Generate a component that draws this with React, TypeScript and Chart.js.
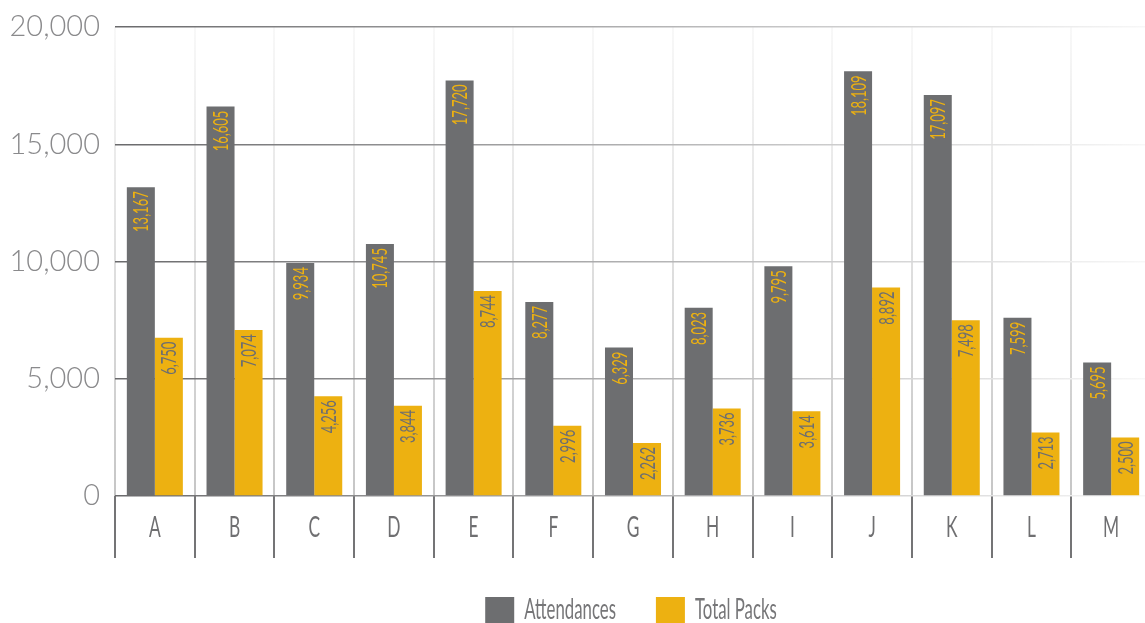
import React, { useEffect, useRef } from "react";
import { Chart, registerables } from "chart.js";

Chart.register(...registerables);

// ---- data ----
const categories = ["A", "B", "C", "D", "E", "F", "G", "H", "I", "J", "K", "L", "M"];
const attendances = [13167, 16605, 9934, 10745, 17720, 8277, 6329, 8023, 9795, 18109, 17097, 7599, 5695];
const totalPacks = [6750, 7074, 4256, 3844, 8744, 2996, 2262, 3736, 3614, 8892, 7498, 2713, 2500];
const seriesNames = ["Attendances", "Total Packs"];
const yTickValues = [0, 5000, 10000, 15000, 20000];

// ---- styling ----
const GREY = "#6d6e70";
const GOLD = "#edb111";
const SQUEEZE = 0.62; // horizontal compression for the narrow label face
const LEGEND_SQUEEZE = 0.6;
const FAMILY = 'Lato, "Open Sans", sans-serif';

const fmt = (v: number) => v.toLocaleString("en-US");

// value labels written upward inside the top of each bar
const barLabels = {
  id: "barLabels",
  afterDatasetsDraw(chart: any) {
    const ctx = chart.ctx as CanvasRenderingContext2D;
    const size = 21;
    chart.data.datasets.forEach((ds: any, di: number) => {
      const meta = chart.getDatasetMeta(di);
      meta.data.forEach((bar: any, i: number) => {
        const { x, y } = bar.getProps(["x", "y"], true);
        ctx.save();
        ctx.translate(x, y + 4);
        ctx.rotate(-Math.PI / 2);
        ctx.scale(SQUEEZE, 1);
        ctx.font = `400 ${size}px ${FAMILY}`;
        ctx.fillStyle = di === 0 ? GOLD : GREY;
        ctx.textAlign = "right";
        ctx.textBaseline = "alphabetic";
        ctx.fillText(fmt(ds.data[i] as number), 0, size * 0.36);
        ctx.restore();
      });
    });
  },
};

// narrow category names centred between the long tick marks
const categoryLabels = {
  id: "categoryLabels",
  afterDraw(chart: any) {
    const ctx = chart.ctx as CanvasRenderingContext2D;
    const xs = chart.scales.x;
    const baseY = chart.chartArea.bottom + 41;
    ctx.save();
    ctx.font = `400 28px ${FAMILY}`;
    ctx.fillStyle = "#6f6f71";
    ctx.textAlign = "center";
    ctx.textBaseline = "alphabetic";
    categories.forEach((c, i) => {
      const px = xs.getPixelForValue(i);
      ctx.save();
      ctx.translate(px, baseY);
      ctx.scale(SQUEEZE, 1);
      ctx.fillText(c, 0, 0);
      ctx.restore();
    });
    ctx.restore();
  },
};

// legend row along the bottom edge
const bottomLegend = {
  id: "bottomLegend",
  afterDraw(chart: any) {
    const ctx = chart.ctx as CanvasRenderingContext2D;
    const boxW = 29;
    const boxH = 26;
    const gap = 10;
    const itemGap = 40;
    const top = chart.height - boxH;
    ctx.save();
    ctx.font = `400 28px ${FAMILY}`;
    const widths = chart.data.datasets.map(
      (d: any) => ctx.measureText(d.label).width * LEGEND_SQUEEZE
    );
    const total =
      widths.reduce((s: number, w: number) => s + boxW + gap + w, 0) +
      itemGap * (widths.length - 1);
    const ca = chart.chartArea;
    let x = (ca.left + ca.right) / 2 - total / 2 - 2;
    chart.data.datasets.forEach((d: any, i: number) => {
      ctx.fillStyle = d.backgroundColor;
      ctx.fillRect(x, top, boxW, boxH);
      x += boxW + gap;
      ctx.save();
      ctx.translate(x, chart.height - 4);
      ctx.scale(LEGEND_SQUEEZE, 1);
      ctx.fillStyle = "#767678";
      ctx.textAlign = "left";
      ctx.textBaseline = "alphabetic";
      ctx.fillText(d.label, 0, 0);
      ctx.restore();
      x += widths[i] + itemGap;
    });
    ctx.restore();
  },
};

function hGradient(c: any) {
  const area = c.chart.chartArea;
  if (!area) return "#b0b0b0";
  const g = c.chart.ctx.createLinearGradient(area.left, 0, area.right, 0);
  g.addColorStop(0, "#6a6a6c");
  g.addColorStop(1, "#f8f8f8");
  return g;
}

function vGradient(c: any) {
  const area = c.chart.chartArea;
  if (!area) return "#d0d0d0";
  const g = c.chart.ctx.createLinearGradient(0, area.top, 0, area.bottom);
  g.addColorStop(0, "#f8f8f8");
  g.addColorStop(1, "#c6c6c6");
  return g;
}

export default function App() {
  const canvasRef = useRef<HTMLCanvasElement | null>(null);

  useEffect(() => {
    if (!canvasRef.current) return;
    const chart = new Chart(canvasRef.current, {
      type: "bar",
      data: {
        labels: categories,
        datasets: [
          {
            label: seriesNames[0],
            data: attendances,
            backgroundColor: GREY,
            borderWidth: 0,
            categoryPercentage: 0.703,
            barPercentage: 1,
          },
          {
            label: seriesNames[1],
            data: totalPacks,
            backgroundColor: GOLD,
            borderWidth: 0,
            categoryPercentage: 0.703,
            barPercentage: 1,
          },
        ],
      },
      options: {
        animation: false,
        responsive: false,
        maintainAspectRatio: false,
        layout: { padding: { top: 27, left: 0, right: 1, bottom: 0 } },
        plugins: {
          legend: { display: false },
          tooltip: { enabled: false },
        },
        scales: {
          x: {
            offset: true,
            border: { display: false },
            grid: {
              offset: true,
              color: vGradient as any,
              tickColor: "#747476",
              lineWidth: 2,
              tickLength: 62,
              drawTicks: true,
            },
            ticks: { display: false },
            afterFit: (s: any) => {
              s.height = 127;
            },
          },
          y: {
            min: 0,
            max: 20000,
            border: { display: false },
            afterBuildTicks: (s: any) => {
              s.ticks = yTickValues.map((v) => ({ value: v }));
            },
            ticks: {
              padding: 15,
              color: "#8a8a8c",
              font: { family: FAMILY, size: 29, weight: "300" as any },
              callback: (v: any) => fmt(Number(v)),
            },
            grid: {
              color: hGradient as any,
              lineWidth: 1.5,
              drawTicks: false,
            },
            afterFit: (s: any) => {
              s.width = 115;
              s.paddingTop = 0;
              s.paddingBottom = 0;
            },
          },
        },
      },
      plugins: [barLabels, categoryLabels, bottomLegend],
    });
    return () => chart.destroy();
  }, []);

  return (
    <div
      style={{
        position: "absolute",
        left: 0,
        top: 0,
        width: 1145,
        height: 623,
        overflow: "hidden",
        background: "#ffffff",
      }}
    >
      <canvas ref={canvasRef} width={1152} height={623} style={{ display: "block" }} />
    </div>
  );
}
